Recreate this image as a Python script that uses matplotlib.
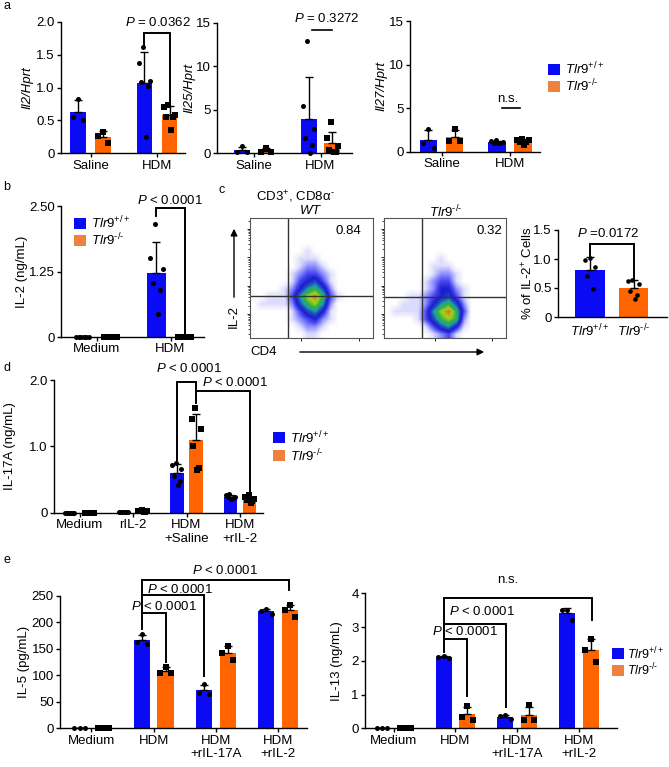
import numpy as np
import matplotlib
matplotlib.use('Agg')
import matplotlib.pyplot as plt
from matplotlib.colors import LinearSegmentedColormap
from matplotlib.patches import Rectangle

# ---------------- data ----------------
a_groups = ['Saline', 'HDM']
il2_wt = [[0.83, 0.55, 0.50], [1.62, 1.38, 1.10, 1.09, 1.03, 0.25]]
il2_ko = [[0.33, 0.27, 0.16], [0.74, 0.70, 0.58, 0.56, 0.55, 0.36]]
il25_wt = [[0.8, 0.15, 0.1], [12.9, 5.4, 2.75, 1.7, 0.9, 0.05]]
il25_ko = [[0.6, 0.2, 0.1], [3.6, 1.8, 0.8, 0.4, 0.1, 0.1]]
il27_wt = [[2.6, 1.0, 0.4], [1.3, 1.2, 1.1, 1.05, 1.0, 0.95]]
il27_ko = [[2.6, 1.2, 1.2], [1.5, 1.4, 1.3, 1.1, 1.1, 0.8]]

b_groups = ['Medium', 'HDM']
il2p_wt = [[0, 0, 0, 0, 0, 0], [2.16, 1.51, 1.30, 1.03, 0.90, 0.44]]
il2p_ko = [[0, 0, 0, 0, 0, 0], [0, 0, 0, 0, 0, 0]]

WT_LAB = r'$\mathit{Tlr9}^{+/+}$'
KO_LAB = r'$\mathit{Tlr9}^{\mathrm{‐/‐}}$'
c_groups = [WT_LAB, KO_LAB]
pct_wt = [1.02, 0.98, 0.87, 0.71, 0.48]
pct_ko = [0.64, 0.62, 0.57, 0.45, 0.38, 0.31]
flow_pct = ['0.84', '0.32']
flow_titles = [r'$\mathit{WT}$', KO_LAB]
flow_wt = ["0000000000000000",
           "0000000000000000",
           "0000000000000000",
           "0000000000000000",
           "0000000100000000",
           "0000001110000000",
           "0000001221000000",
           "0000012332100000",
           "0000013453100000",
           "0000124675200000",
           "0011136897310000",
           "0111125786200000",
           "0000013564100000",
           "0000012342100000",
           "0000001221000000",
           "0000000110000000"]
flow_ko = ["0000000000000000",
           "0000000000000000",
           "0000000000000000",
           "0000000000000000",
           "0000000000000000",
           "0000000100000000",
           "0000001110000000",
           "0000001221000000",
           "0000012331000000",
           "0000012442100000",
           "0001123453100000",
           "0011124675200000",
           "0111136897300000",
           "0000135787200000",
           "0000013564100000",
           "0000001231000000"]

d_groups = ['Medium', 'rIL-2', 'HDM\n+Saline', 'HDM\n+rIL-2']
il17_wt = [[0, 0, 0, 0, 0, 0], [0.01, 0.01, 0.01, 0.01, 0.01, 0.01],
           [0.75, 0.72, 0.66, 0.55, 0.48, 0.42], [0.28, 0.26, 0.24, 0.23, 0.22, 0.20]]
il17_ko = [[0, 0, 0, 0, 0, 0], [0.04, 0.03, 0.02, 0.02, 0.01, 0.01],
           [1.58, 1.41, 1.26, 1.00, 0.68, 0.65], [0.26, 0.23, 0.21, 0.19, 0.17, 0.15]]

e_groups = ['Medium', 'HDM', 'HDM\n+rIL-17A', 'HDM\n+rIL-2']
il5_wt = [[0, 0, 0], [178, 164, 160], [84, 67, 65], [226, 222, 216]]
il5_ko = [[0, 0, 0], [116, 105, 104], [155, 142, 129], [233, 224, 211]]
il13_wt = [[0, 0, 0], [2.15, 2.12, 2.08], [0.39, 0.35, 0.27], [3.50, 3.50, 3.22]]
il13_ko = [[0, 0, 0], [0.67, 0.33, 0.25], [0.68, 0.25, 0.25], [2.65, 2.32, 1.95]]

# ---------------- style ----------------
W, H = 669, 767
BLUE = '#0a0af5'
ORANGE = '#ff6400'
LORANGE = '#ee8040'
FS = 9.5

plt.rcParams['font.family'] = ['Liberation Sans', 'DejaVu Sans']
plt.rcParams['mathtext.fontset'] = 'custom'
plt.rcParams['mathtext.rm'] = 'Liberation Sans'
plt.rcParams['mathtext.it'] = 'Liberation Sans:italic'
plt.rcParams['mathtext.bf'] = 'Liberation Sans:bold'
plt.rcParams['font.size'] = FS
plt.rcParams['axes.linewidth'] = 1.0

fig = plt.figure(figsize=(W / 100, H / 100), dpi=100)


def axpx(L, R, T, B):
    return fig.add_axes([L / W, 1 - B / H, (R - L) / W, (B - T) / H])


def style(ax, L, R, ylabel, xlab_px, italic=False):
    for s in ['top', 'right']:
        ax.spines[s].set_visible(False)
    ax.tick_params(length=3, width=1, pad=1.5, labelsize=FS)
    ax.set_ylabel(ylabel, fontsize=FS, va='center', style='italic' if italic else 'normal')
    ax.yaxis.set_label_coords((xlab_px - L) / (R - L), 0.5)


PERM = {3: [1, 0, 2], 5: [2, 0, 4, 1, 3], 6: [2, 0, 5, 1, 4, 3]}


def bars(ax, wt, ko, width, off, ms=13):
    for i, (w, k) in enumerate(zip(wt, ko)):
        for vals, dx, col, mk in [(w, -off, BLUE, 'o'), (k, off, ORANGE, 's')]:
            v = np.array(vals, dtype=float)
            m = v.mean()
            sd = v.std(ddof=1)
            x = i + dx
            ax.bar(x, m, width, color=col, zorder=1, linewidth=0)
            ax.errorbar(x, m, yerr=[[0], [sd]], color='k', capsize=3, lw=1,
                        capthick=1, zorder=2)
            n = len(v)
            offs = np.linspace(-0.33, 0.33, n)[PERM[n]] * width
            ax.scatter(x + offs, v, marker=mk, s=ms, color='k', zorder=3,
                       linewidths=0, clip_on=False)


def bracket(ax, x1, x2, y, y1, y2, lw=1.4):
    ax.plot([x1, x1, x2, x2], [y1, y, y, y2], color='k', lw=lw, clip_on=False,
            solid_joinstyle='miter', zorder=4)


def xl(L, R, c0, s):
    return ((L - c0) / s, (R - c0) / s)


# ---------------- panel a ----------------
ax = axpx(61, 185, 22, 153.3)
bars(ax, il2_wt, il2_ko, 0.24, 0.188)
ax.set_xlim(*xl(61, 185, 90.5, 66.5)); ax.set_ylim(0, 2)
ax.set_yticks([0, 0.5, 1.0, 1.5, 2.0], ['0', '0.5', '1.0', '1.5', '2.0'])
ax.set_xticks([0, 1], a_groups)
style(ax, 61, 185, 'Il2/Hprt', 27, italic=True)
bracket(ax, 1 - 0.188, 1 + 0.188, 1.84, 1.65, 0.78)
ax.text(1.015, 2.0, r'$P$ = 0.0362', ha='center', va='center', fontsize=FS)

ax = axpx(217, 352, 22.7, 153.3)
bars(ax, il25_wt, il25_ko, 0.24, 0.18)
ax.set_xlim(*xl(217, 352, 254, 66.5)); ax.set_ylim(0, 15)
ax.set_yticks([0, 5, 10, 15])
ax.set_xticks([0, 1], a_groups)
style(ax, 217, 352, 'Il25/Hprt', 189, italic=True)
ax.plot([0.87, 1.18], [14.2, 14.2], color='k', lw=1.2, clip_on=False)
ax.text(1.10, 15.5, r'$P$ = 0.3272', ha='center', va='center', fontsize=FS)

ax = axpx(410, 540, 21, 151.7)
bars(ax, il27_wt, il27_ko, 0.25, 0.19)
ax.set_xlim(*xl(410, 540, 441.5, 68.5)); ax.set_ylim(0, 15)
ax.set_yticks([0, 5, 10, 15])
ax.set_xticks([0, 1], a_groups)
style(ax, 410, 540, 'Il27/Hprt', 381, italic=True)
ax.plot([0.88, 1.15], [5.0, 5.0], color='k', lw=1.2, clip_on=False)
ax.text(0.97, 6.1, 'n.s.', ha='center', va='center', fontsize=FS)

# ---------------- panel b ----------------
ax = axpx(61, 204, 206, 337)
bars(ax, il2p_wt, il2p_ko, 0.257, 0.19)
ax.set_xlim(*xl(61, 204, 96.7, 73.8)); ax.set_ylim(0, 2.5)
ax.set_yticks([0, 1.25, 2.5], ['0', '1.25', '2.50'])
ax.set_xticks([0, 1], b_groups)
style(ax, 61, 204, 'IL-2 (ng/mL)', 22)
bracket(ax, 1 - 0.19, 1 + 0.19, 2.46, 2.30, 0.06)
ax.text(0.99, 2.61, r'$P$ < 0.0001', ha='center', va='center', fontsize=FS)

# ---------------- panel c: flow ----------------
cmap = LinearSegmentedColormap.from_list('flow', [
    (0.0, 'white'), (0.1, '#e2e2fc'), (0.22, '#9090ff'), (0.33, '#4848f0'),
    (0.45, '#1c1cd0'), (0.58, '#2050c0'), (0.68, '#20a0a0'), (0.78, '#30b040'),
    (0.9, '#a8d020'), (1.0, '#e07018')])


def flow(L, R, grid, gx, gy):
    arr = np.array([[int(ch) for ch in row] for row in grid], dtype=float)
    axd = axpx(L, R, 218, 338)
    axd.imshow(arr, cmap=cmap, vmin=0, vmax=9, extent=(0, 16, 0, 16),
               origin='upper', interpolation='bilinear', aspect='auto')
    axd.set_xlim(0, 16); axd.set_ylim(0, 16)
    axd.axvline(gx, color='#333333', lw=1)
    axd.axhline(gy, color='#333333', lw=1)
    axd.set_xticks([]); axd.set_yticks([])
    for s in axd.spines.values():
        s.set_visible(False)
    axf = axpx(L, R, 218, 338)
    axf.patch.set_alpha(0)
    axf.set_xscale('log'); axf.set_yscale('log')
    axf.set_xlim(10 ** 0.2, 10 ** 4.5); axf.set_ylim(10 ** 0.16, 10 ** 4.39)
    axf.tick_params(which='both', labelleft=False, labelbottom=False)
    axf.tick_params(which='major', length=2.5, width=0.6)
    axf.tick_params(which='minor', length=1.3, width=0.5)
    for s in axf.spines.values():
        s.set_color('#555555'); s.set_linewidth(0.8)


flow(250, 373, flow_wt, 4.94, 5.6)
flow(384, 506, flow_ko, 4.98, 5.47)

# ---------------- panel c: bar ----------------
ax = axpx(558, 667, 230, 317)
for i, (vals, col, mk) in enumerate([(pct_wt, BLUE, 'o'), (pct_ko, ORANGE, 'o')]):
    v = np.array(vals)
    ax.bar(i, v.mean(), 0.68, color=col, linewidth=0, zorder=1)
    ax.errorbar(i, v.mean(), yerr=[[0], [v.std(ddof=1)]], color='k', capsize=3,
                lw=1, capthick=1, zorder=2)
    n = len(v)
    offs = np.linspace(-0.12, 0.12, n)[PERM[n]]
    ax.scatter(i + offs, v, marker=mk, s=11, color='k', zorder=3, linewidths=0)
ax.set_xlim(-0.736, 1.77); ax.set_ylim(0, 1.5)
ax.set_yticks([0, 0.5, 1.0, 1.5], ['0', '0.5', '1.0', '1.5'])
ax.set_xticks([0, 1], c_groups)
style(ax, 558, 667, r'% of IL-2$^{+}$ Cells', 527.5)
ax.tick_params(axis='x', length=0, pad=4)
bracket(ax, 0, 1, 1.26, 1.06, 0.66)
ax.text(0.41, 1.44, r'$P$ =0.0172', ha='center', va='center', fontsize=FS)

# ---------------- panel d ----------------
ax = axpx(54, 263, 380, 512.7)
bars(ax, il17_wt, il17_ko, 0.25, 0.18)
ax.set_xlim(*xl(54, 263, 79.5, 53.5)); ax.set_ylim(0, 2)
ax.set_yticks([0, 1, 2], ['0', '1.0', '2.0'])
ax.set_xticks([0, 1, 2, 3], d_groups)
style(ax, 54, 263, 'IL-17A (ng/mL)', 10)
bracket(ax, 2 - 0.18, 2 + 0.18, 1.97, 0.80, 1.66)
bracket(ax, 2 + 0.18, 3 + 0.18, 1.84, 1.84, 0.32)
ax.text(2.04, 2.18, r'$P$ < 0.0001', ha='center', va='center', fontsize=FS)
ax.text(2.91, 1.96, r'$P$ < 0.0001', ha='center', va='center', fontsize=FS)

# ---------------- panel e ----------------
ax = axpx(60, 307, 596, 728.3)
bars(ax, il5_wt, il5_ko, 0.26, 0.19)
ax.set_xlim(*xl(60, 307, 91.5, 62.2)); ax.set_ylim(0, 250)
ax.set_yticks([0, 50, 100, 150, 200, 250])
ax.set_xticks([0, 1, 2, 3], e_groups)
style(ax, 60, 307, 'IL-5 (pg/mL)', 24)
bracket(ax, 0.81, 3.18, 281, 188, 262)
bracket(ax, 0.81, 1.81, 252, 252, 98)
bracket(ax, 0.81, 1.19, 218.5, 218.5, 126)
ax.text(2.15, 298, r'$P$ < 0.0001', ha='center', va='center', fontsize=FS)
ax.text(1.42, 263, r'$P$ < 0.0001', ha='center', va='center', fontsize=FS)
ax.text(1.17, 231, r'$P$ < 0.0001', ha='center', va='center', fontsize=FS)

ax = axpx(365, 617, 593.3, 728.3)
bars(ax, il13_wt, il13_ko, 0.26, 0.19)
ax.set_xlim(*xl(365, 617, 393.8, 61.7)); ax.set_ylim(0, 4)
ax.set_yticks([0, 1, 2, 3, 4])
ax.set_xticks([0, 1, 2, 3], e_groups)
style(ax, 365, 617, 'IL-13 (ng/mL)', 337)
bracket(ax, 0.82, 3.22, 3.85, 2.27, 3.21)
bracket(ax, 0.82, 1.82, 3.09, 3.09, 0.64)
bracket(ax, 0.82, 1.19, 2.65, 2.65, 0.95)
ax.text(1.85, 4.39, 'n.s.', ha='center', va='center', fontsize=FS)
ax.text(1.43, 3.45, r'$P$ < 0.0001', ha='center', va='center', fontsize=FS)
ax.text(1.15, 2.86, r'$P$ < 0.0001', ha='center', va='center', fontsize=FS)

# ---------------- overlay: labels, legends, arrows ----------------
ov = fig.add_axes([0, 0, 1, 1], zorder=10)
ov.set_xlim(0, W); ov.set_ylim(H, 0); ov.axis('off')

for lab, (x, y) in zip('abcde', [(7, 6), (7, 187), (222, 190), (7, 368), (7, 560)]):
    ov.text(x, y, lab, ha='center', va='center', fontsize=9)


def legend(x, y1, y2, fs=9.5, gap=17):
    ov.add_patch(Rectangle((x, y1), 12, 11, color=BLUE, lw=0))
    ov.add_patch(Rectangle((x, y2), 12, 11, color=LORANGE, lw=0))
    ov.text(x + gap, y1 + 5.5, WT_LAB, ha='left', va='center', fontsize=fs)
    ov.text(x + gap, y2 + 5.5, KO_LAB, ha='left', va='center', fontsize=fs)


legend(548, 64, 81)
legend(74, 218, 235)
legend(273, 432, 450)
legend(612, 648, 665, fs=9, gap=15)

ov.text(295, 197, r'CD3$^{+}$, CD8α$^{\mathrm{‐}}$', ha='center', va='center', fontsize=FS)
ov.text(311, 211, flow_titles[0], ha='center', va='center', fontsize=FS)
ov.text(446, 212, flow_titles[1], ha='center', va='center', fontsize=FS)
ov.text(348.5, 231, flow_pct[0], ha='center', va='center', fontsize=FS)
ov.text(489, 231, flow_pct[1], ha='center', va='center', fontsize=FS)
ov.annotate('', xy=(234, 226), xytext=(234, 300),
            arrowprops=dict(arrowstyle='-|>', color='k', lw=1, mutation_scale=10))
ov.text(233.5, 317, 'IL-2', rotation=90, ha='center', va='center', fontsize=FS)
ov.text(263.5, 352, 'CD4', ha='center', va='center', fontsize=FS)
ov.annotate('', xy=(487, 352), xytext=(297, 352),
            arrowprops=dict(arrowstyle='-|>', color='k', lw=1, mutation_scale=10))

fig.savefig('out.png', dpi=100, facecolor='white')
